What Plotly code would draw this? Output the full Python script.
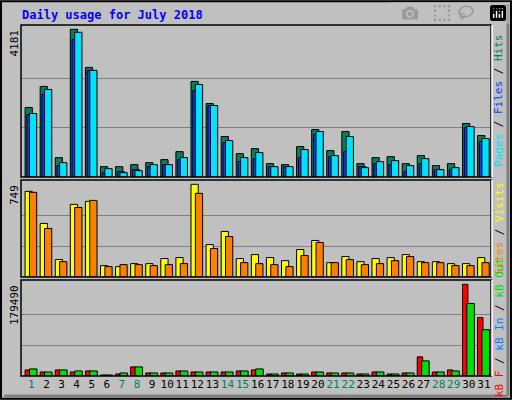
import plotly.graph_objects as go

days = list(range(1, 32))
hits = [1968,2564,549,4181,3103,293,293,350,407,492,719,2706,2081,1145,662,804,378,350,861,1343,747,1287,378,549,577,378,605,322,378,1514,1173]
files = [1797,2479,407,4096,3018,237,123,180,350,350,549,2620,2024,1031,549,691,293,293,776,1287,605,1145,265,435,464,322,520,208,265,1428,1088]
pages = [1769,2337,322,3898,3018,123,151,208,293,350,492,2450,2024,974,435,520,293,293,549,1201,577,719,293,378,350,151,378,208,208,1400,1003]
visits = [692,433,141,587,611,92,84,108,108,149,157,749,262,368,149,181,157,132,222,295,116,165,124,149,157,181,124,124,108,108,157]
sites = [684,392,124,562,619,84,100,100,92,100,108,676,230,327,116,108,100,84,173,279,116,141,100,108,132,165,116,116,92,92,116]
kbf = [11835,7890,11835,7890,9862,1972,3945,17752,5917,5917,9862,7890,7890,7890,9862,11835,3945,5917,3945,7890,5917,5917,3945,7890,3945,5917,37478,7890,11835,179490,114405]
kbin = [900]*31
kbout = [13807,7890,11835,9862,9862,1972,5917,17752,5917,5917,9862,7890,7890,7890,9862,13807,3945,5917,3945,7890,5917,5917,3945,7890,3945,5917,29587,7890,9862,142020,90735]
weekends = {1,7,8,14,15,21,22,28,29}
max_hits, max_visits, max_kb = 4181, 749, 179490

fig = go.Figure()
W = 0.48
def bars(vals, color, off, ya, w=W):
    fig.add_trace(go.Bar(x=days, y=vals, marker=dict(color=color, line=dict(color="black", width=1)),
                         offset=off, width=w, xaxis="x" if ya == "y" else "x" + ya[1:], yaxis=ya,
                         showlegend=False, hoverinfo="skip"))

bars(hits, "#00805c", -0.42, "y")
bars(pages, "#0040ff", -0.30, "y")
bars(files, "#00e0ff", -0.13, "y")
bars(visits, "#ffff00", -0.42, "y2")
bars(sites, "#ff8000", -0.13, "y2")
bars(kbf, "#ff0000", -0.42, "y3", 0.36)
bars(kbin, "#0080ff", -0.30, "y3", 0.36)
bars(kbout, "#00e000", -0.13, "y3", 0.5)

xr = [0.31, 31.47]
dom = [21/512, 491/512]
ticktext = [f"<span style='color:#00805c'>{d}</span>" if d in weekends else str(d) for d in days]
common_x = dict(range=xr, domain=dom, showgrid=False, zeroline=False, showline=False, fixedrange=True)
fig.update_layout(
    width=512, height=400, margin=dict(l=0, r=0, t=0, b=0),
    paper_bgcolor="#c0c0c0", plot_bgcolor="#c0c0c0", barmode="overlay",
    font=dict(family="DejaVu Sans Mono", size=11, color="black"),
    xaxis=dict(**common_x, anchor="y", showticklabels=False),
    xaxis2=dict(**common_x, anchor="y2", showticklabels=False),
    xaxis3=dict(**common_x, anchor="y3", tickmode="array", tickvals=days, ticktext=ticktext,
                ticks="", tickangle=0, tickfont=dict(size=11)),
    yaxis=dict(domain=[0.5575, 0.9375], range=[0, max_hits*151.7/147.4], tickvals=[max_hits/3, 2*max_hits/3],
               showticklabels=False, gridcolor="#808080", zeroline=False, fixedrange=True),
    yaxis2=dict(domain=[0.3075, 0.55], range=[0, max_visits*96.7/92.4], tickvals=[max_visits/3, 2*max_visits/3],
                showticklabels=False, gridcolor="#808080", zeroline=False, fixedrange=True),
    yaxis3=dict(domain=[0.06, 0.30], range=[0, max_kb*95.3/91], tickvals=[max_kb/3, 2*max_kb/3],
                showticklabels=False, gridcolor="#808080", zeroline=False, fixedrange=True),
)

shapes = []
for y0, y1 in [(0.5575, 0.9375), (0.3075, 0.55), (0.06, 0.30)]:
    shapes.append(dict(type="rect", xref="paper", yref="paper", x0=dom[0], x1=dom[1], y0=y0, y1=y1,
                       line=dict(color="black", width=1.5), layer="above"))
    shapes.append(dict(type="line", xref="paper", yref="paper", x0=dom[1]+0.002, x1=dom[1]+0.002, y0=y0, y1=y1,
                       line=dict(color="white", width=1.5)))
shapes.append(dict(type="rect", xref="paper", yref="paper", x0=0.002, x1=0.998, y0=0.003, y1=0.997,
                   line=dict(color="black", width=2)))
shapes.append(dict(type="line", xref="paper", yref="paper", x0=0.008, x1=0.992, y0=0.01, y1=0.01,
                   line=dict(color="#808080", width=3)))
shapes.append(dict(type="line", xref="paper", yref="paper", x0=0.992, x1=0.992, y0=0.01, y1=0.99,
                   line=dict(color="#808080", width=3)))
fig.update_layout(shapes=shapes)

ann = [
    dict(x=20/512, y=1-15/400, text="<b>Daily usage for July 2018</b>", font=dict(color="#0000ff", size=12),
         xanchor="left", yanchor="middle"),
    dict(x=14/512, y=1-28/400, text=str(max_hits), textangle=-90, xanchor="center", yanchor="top"),
    dict(x=14/512, y=1-183/400, text=str(max_visits), textangle=-90, xanchor="center", yanchor="top"),
    dict(x=14/512, y=1-283/400, text=str(max_kb), textangle=-90, xanchor="center", yanchor="top"),
    dict(x=499/512, y=1-101/400, textangle=-90, xanchor="center", yanchor="middle",
         text="<span style='color:#00e0ff'>Pages</span> / <span style='color:#0040ff'>Files</span> / <span style='color:#00805c'>Hits</span>"),
    dict(x=499/512, y=1-229/400, textangle=-90, xanchor="center", yanchor="middle",
         text="<span style='color:#ff8000'>Sites</span> / <span style='color:#ffff00'>Visits</span>"),
    dict(x=499/512, y=1-328/400, textangle=-90, xanchor="center", yanchor="middle",
         text="<span style='color:#ff0000'>kB F</span> / <span style='color:#0080ff'>kB In</span> / <span style='color:#00e000'>kB Out</span>"),
]
for a in ann:
    a.update(xref="paper", yref="paper", showarrow=False)
fig.update_layout(annotations=ann)
fig.write_html("out.html")

with open("out.html", encoding="utf-8") as f:
    html = f.read()
html = html.replace("<head>", "<head><style>html,body{margin:0;padding:0;overflow:hidden}</style>", 1)
with open("out.html", "w", encoding="utf-8") as f:
    f.write(html)
